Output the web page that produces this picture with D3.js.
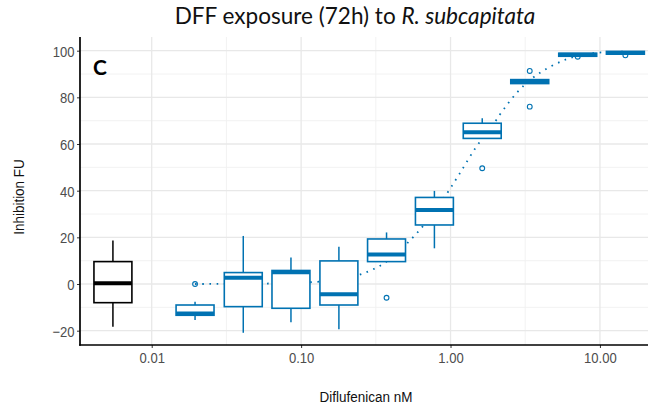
<!DOCTYPE html>
<html><head><meta charset="utf-8">
<script src="https://cdn.jsdelivr.net/npm/d3@7/dist/d3.min.js"></script>
<style>html,body{margin:0;padding:0;background:#fff;}svg{display:block;}</style>
</head><body>
<svg id="chart" width="648" height="407"></svg>
<script>
// ---- data ----
const xTickValues = [0.01, 0.1, 1, 10];
const xTickLabels = ["0.01", "0.10", "1.00", "10.00"];
const yTickValues = [-20, 0, 20, 40, 60, 80, 100];

const controlConc = 0.0055;
const controlStats = { low: -18.3, q1: -8.0, median: 0.3, q3: 9.6, high: 18.6 };

const conc        = [0.0195, 0.041, 0.0855, 0.179, 0.373, 0.78, 1.63, 3.39, 7.1, 14.8];
const whiskerHigh = [-7.6, 20.6, 11.4, 16.0, 22.1, 39.9, 71.0, 87.6, 98.9, 99.7];
const q3          = [-9.0,  4.9,  5.8,  9.9, 19.3, 37.1, 68.9, 87.6, 98.9, 99.7];
const median      = [-12.6, 2.7,  5.0, -4.4, 12.6, 31.7, 65.0, 86.7, 98.3, 99.0];
const q1          = [-13.4, -9.7, -10.4, -9.0, 9.6, 25.3, 62.4, 85.9, 97.6, 98.5];
const whiskerLow  = [-15.4, -20.9, -16.4, -19.4, 9.6, 15.3, 62.4, 85.9, 97.6, 98.5];

const outlierConc  = [0.0195, 0.373, 1.63, 3.39, 3.39, 7.1, 14.8];
const outlierValue = [0.0, -5.9, 49.6, 91.3, 76.0, 97.4, 98.0];

const fitConc  = [0.0195, 0.041, 0.0855, 0.125, 0.179, 0.247, 0.373, 0.534, 0.692, 0.891, 1.153, 1.479, 1.928, 2.14, 2.754, 3.59, 4.645, 6.026, 9.55, 14.8];
const fitValue = [0, 0.1, 0.4, 0.9, 1.7, 4.0, 9.6, 18.6, 26.7, 36.3, 47.4, 58.6, 68.3, 72.6, 81.7, 88.6, 93.1, 96.4, 99.1, 99.6];

// ---- layout ----
const BLUE = "#0072B2";
const FONT = "Liberation Sans, Arial, sans-serif";
const SQ = 0.87; // horizontal squeeze of axis text
const svg = d3.select("#chart");
const pLeft = 80, pRight = 647, pTop = 37, pBottom = 345;

const x = d3.scaleLog().domain([Math.pow(10, -2.48), Math.pow(10, 1.315)]).range([pLeft, pRight]);
const y = d3.scaleLinear().domain([-26.14, 105.86]).range([pBottom, pTop]);

const halfLog = 0.127; // half box width in log10 units
const bx0 = c => x(c / Math.pow(10, halfLog));
const bx1 = c => x(c * Math.pow(10, halfLog));

// grid
const g = svg.append("g");
const xMinor = [0.01, 0.1, 1].map(v => v * Math.sqrt(10));
const yMinor = d3.range(-10, 100, 20);
g.selectAll(".xm").data(xMinor).join("line")
  .attr("x1", d => x(d)).attr("x2", d => x(d)).attr("y1", pTop).attr("y2", pBottom)
  .attr("stroke", "#f0f0f0").attr("stroke-width", 0.9);
g.selectAll(".ym").data(yMinor).join("line")
  .attr("x1", pLeft).attr("x2", pRight + 1).attr("y1", d => y(d)).attr("y2", d => y(d))
  .attr("stroke", "#f0f0f0").attr("stroke-width", 0.9);
g.selectAll(".xM").data(xTickValues).join("line")
  .attr("x1", d => x(d)).attr("x2", d => x(d)).attr("y1", pTop).attr("y2", pBottom)
  .attr("stroke", "#e8e8e8").attr("stroke-width", 1.3);
g.selectAll(".yM").data(yTickValues).join("line")
  .attr("x1", pLeft).attr("x2", pRight + 1).attr("y1", d => y(d)).attr("y2", d => y(d))
  .attr("stroke", "#e8e8e8").attr("stroke-width", 1.3);

// axes
const xAxis = d3.axisBottom(x).tickValues(xTickValues).tickFormat((d, i) => xTickLabels[i]).tickSize(3).tickSizeOuter(0);
const yAxis = d3.axisLeft(y).tickValues(yTickValues).tickSize(3).tickSizeOuter(0);
const xa = svg.append("g").attr("transform", `translate(0,${pBottom})`).call(xAxis);
const ya = svg.append("g").attr("transform", `translate(${pLeft},0)`).call(yAxis);
[xa, ya].forEach(a => {
  a.select(".domain").remove();
  a.selectAll(".tick line").attr("stroke", "#333").attr("stroke-width", 1);
  a.selectAll(".tick text").attr("fill", "#4d4d4d").attr("font-family", FONT).attr("font-size", 15);
});
xa.selectAll(".tick text").attr("y", 0).attr("dy", 0).attr("transform", `translate(0,18.3) scale(${SQ},1)`);
ya.selectAll(".tick text").attr("x", 0).attr("dy", "0.36em").attr("transform", `translate(-5.5,0) scale(${SQ},1)`);
svg.append("line").attr("x1", pLeft).attr("x2", pLeft).attr("y1", pTop).attr("y2", pBottom + 0.8)
  .attr("stroke", "#000").attr("stroke-width", 1.7);
svg.append("line").attr("x1", pLeft - 0.8).attr("x2", pRight + 1).attr("y1", pBottom).attr("y2", pBottom)
  .attr("stroke", "#000").attr("stroke-width", 1.7);

// fitted curve (dotted)
const fitPts = fitConc.map((c, i) => [c, fitValue[i]]);
svg.append("path").datum(fitPts)
  .attr("d", d3.line().x(d => x(d[0])).y(d => y(d[1])).curve(d3.curveMonotoneX))
  .attr("fill", "none").attr("stroke", BLUE).attr("stroke-width", 1.8)
  .attr("stroke-dasharray", "1.6 5.6");

// boxplot drawer
function drawBox(c, st, color) {
  const gb = svg.append("g");
  const xc = x(c);
  gb.append("line").attr("x1", xc).attr("x2", xc).attr("y1", y(st.high)).attr("y2", y(st.q3))
    .attr("stroke", color).attr("stroke-width", 1.5);
  gb.append("line").attr("x1", xc).attr("x2", xc).attr("y1", y(st.q1)).attr("y2", y(st.low))
    .attr("stroke", color).attr("stroke-width", 1.5);
  gb.append("rect").attr("x", bx0(c)).attr("width", bx1(c) - bx0(c))
    .attr("y", y(st.q3)).attr("height", Math.max(0.01, y(st.q1) - y(st.q3)))
    .attr("fill", "#fff").attr("stroke", color).attr("stroke-width", 1.6);
  gb.append("line").attr("x1", bx0(c)).attr("x2", bx1(c)).attr("y1", y(st.median)).attr("y2", y(st.median))
    .attr("stroke", color).attr("stroke-width", 4);
}
drawBox(controlConc, controlStats, "#000");
conc.forEach((c, i) => drawBox(c, { low: whiskerLow[i], q1: q1[i], median: median[i], q3: q3[i], high: whiskerHigh[i] }, BLUE));

// outliers
svg.selectAll(".out").data(outlierConc.map((c, i) => [c, outlierValue[i]])).join("circle")
  .attr("cx", d => x(d[0])).attr("cy", d => y(d[1])).attr("r", 2.4)
  .attr("fill", "none").attr("stroke", BLUE).attr("stroke-width", 1.1);

// titles
const title = svg.append("text").attr("x", 355).attr("y", 24).attr("text-anchor", "middle")
  .attr("font-family", "Lato, 'Open Sans', sans-serif").attr("font-size", 20).attr("fill", "#111");
title.append("tspan").text("DFF exposure (72h) to ");
title.append("tspan").attr("font-style", "italic").text("R. subcapitata");
const tw = title.node().getComputedTextLength();
title.attr("font-size", 20 * 361 / tw);

svg.append("text").attr("x", 93).attr("y", 75).attr("font-family", "Lato, 'Open Sans', sans-serif")
  .attr("font-weight", "bold").attr("font-size", 21).attr("fill", "#000").text("C");

svg.append("text").attr("transform", `translate(366,401.5) scale(${SQ},1)`).attr("text-anchor", "middle")
  .attr("font-family", FONT).attr("font-size", 15.5).attr("fill", "#111")
  .text("Diflufenican nM");
svg.append("text").attr("transform", `translate(24,197) rotate(-90) scale(${SQ},1)`).attr("text-anchor", "middle")
  .attr("font-family", FONT).attr("font-size", 15.5).attr("fill", "#111")
  .text("Inhibition FU");
</script>
</body></html>
